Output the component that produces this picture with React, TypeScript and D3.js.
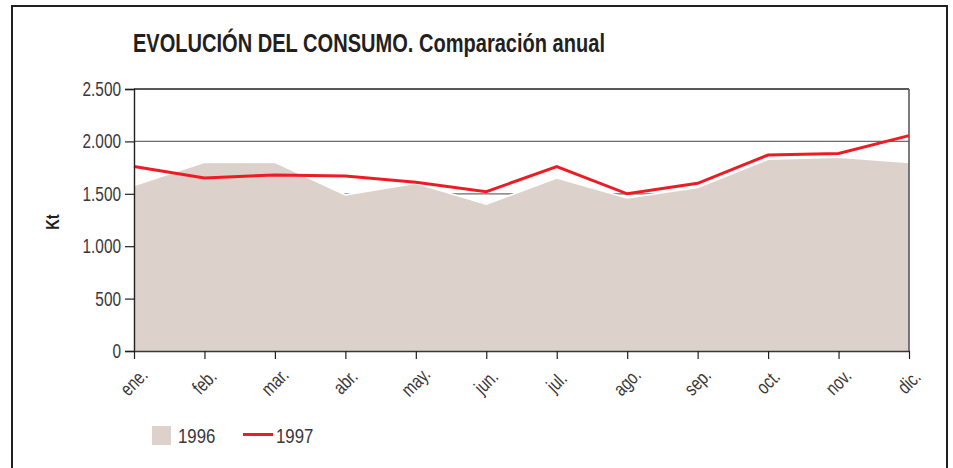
import React, { useEffect, useRef } from 'react'
import * as d3 from 'd3'

const months = ['ene.', 'feb.', 'mar.', 'abr.', 'may.', 'jun.', 'jul.', 'ago.', 'sep.', 'oct.', 'nov.', 'dic.']
const consumo1996 = [1580, 1800, 1800, 1490, 1600, 1400, 1650, 1460, 1560, 1830, 1850, 1800]
const consumo1997 = [1760, 1650, 1680, 1670, 1610, 1520, 1760, 1500, 1600, 1870, 1885, 2055]
const yTicks = [0, 500, 1000, 1500, 2000, 2500]

const W = 953
const H = 468
const FONT = "'Liberation Sans', Arial, sans-serif"
const SX = 0.77 // squeeze glyphs to mimic a condensed face
const AREA = '#ddd1cc'
const RED = '#ed1c24'
const INK = '#231f20'
const LABEL = '#3a3839'

export default function App() {
    const svgRef = useRef<SVGSVGElement>(null)

    useEffect(() => {
        const svg = d3.select(svgRef.current)
        svg.selectAll('*').remove()

        const left = 134
        const right = 909
        const top = 89
        const bottom = 351

        const x = d3.scalePoint<string>().domain(months).range([left, right])
        const y = d3.scaleLinear().domain([0, 2500]).range([bottom, top])

        // outer frame
        svg.append('rect')
            .attr('x', 12).attr('y', 6)
            .attr('width', 935).attr('height', 520)
            .attr('fill', 'none').attr('stroke', INK).attr('stroke-width', 2)

        svg.append('text')
            .attr('x', 133).attr('y', 52)
            .attr('font-family', FONT).attr('font-weight', 'bold')
            .attr('font-size', 25.5).attr('fill', INK)
            .attr('textLength', 472).attr('lengthAdjust', 'spacingAndGlyphs')
            .text('EVOLUCIÓN DEL CONSUMO. Comparación anual')

        // gridlines (behind the area)
        svg.append('g').selectAll('line')
            .data(yTicks.filter(d => d > 0 && d < 2500))
            .enter().append('line')
            .attr('x1', left).attr('x2', right)
            .attr('y1', d => y(d)).attr('y2', d => y(d))
            .attr('stroke', '#6d6a6a').attr('stroke-width', 1.2)

        const area = d3.area<number>()
            .x((d, i) => x(months[i]) as number)
            .y0(bottom)
            .y1(d => y(d))

        svg.append('path').datum(consumo1996)
            .attr('d', area).attr('fill', AREA)

        const line = d3.line<number>()
            .x((d, i) => x(months[i]) as number)
            .y(d => y(d))

        svg.append('path').datum(consumo1996)
            .attr('d', line).attr('fill', 'none')
            .attr('stroke', '#fff').attr('stroke-width', 1.6)

        // frame of plot: top and right
        svg.append('line')
            .attr('x1', left).attr('x2', right).attr('y1', top).attr('y2', top)
            .attr('stroke', INK).attr('stroke-width', 1.4)
        svg.append('line')
            .attr('x1', right).attr('x2', right).attr('y1', top).attr('y2', bottom)
            .attr('stroke', '#5d5959').attr('stroke-width', 1.6)

        svg.append('path').datum(consumo1997)
            .attr('d', line).attr('fill', 'none')
            .attr('stroke', RED).attr('stroke-width', 3)
            .attr('stroke-linejoin', 'miter')

        // y axis
        const yAxis = svg.append('g')
            .attr('transform', `translate(${left},0)`)
            .call(d3.axisLeft(y).tickValues(yTicks).tickSize(9).tickPadding(4)
                .tickFormat(d => d3.format(',')(d as number).replace(/,/g, '.')))
        yAxis.select('.domain').attr('stroke', INK).attr('stroke-width', 1.4)
        yAxis.selectAll('.tick line').attr('stroke', INK).attr('stroke-width', 1.2)
        yAxis.selectAll('.tick text')
            .attr('x', -13 / SX)
            .attr('transform', `scale(${SX},1)`)
            .attr('font-family', FONT).attr('font-size', 20).attr('fill', LABEL)

        // x axis
        const xAxis = svg.append('g')
            .attr('transform', `translate(0,${bottom})`)
            .call(d3.axisBottom(x).tickSize(8).tickSizeOuter(0))
        xAxis.select('.domain').attr('stroke', '#3a3636').attr('stroke-width', 1.6)
        xAxis.selectAll('.tick line').attr('stroke', INK).attr('stroke-width', 1.2)
        xAxis.selectAll('.tick text').remove()

        svg.append('g').selectAll('text')
            .data(months)
            .enter().append('text')
            .attr('transform', d => `translate(${(x(d) as number) + 1},383) rotate(-45) scale(${SX},1)`)
            .attr('text-anchor', 'middle').attr('dominant-baseline', 'middle')
            .attr('font-family', FONT).attr('font-size', 19.5).attr('fill', LABEL)
            .text(d => d)

        svg.append('text')
            .attr('transform', `translate(59,222) rotate(-90) scale(${SX},1)`)
            .attr('text-anchor', 'middle')
            .attr('font-family', FONT).attr('font-weight', 'bold')
            .attr('font-size', 19).attr('fill', INK)
            .text('Kt')

        // legend
        svg.append('rect')
            .attr('x', 152).attr('y', 426).attr('width', 19).attr('height', 19)
            .attr('fill', AREA)
        svg.append('text')
            .attr('transform', `translate(178,443) scale(0.82,1)`)
            .attr('font-family', FONT).attr('font-size', 20.5).attr('fill', LABEL)
            .text('1996')
        svg.append('line')
            .attr('x1', 243).attr('x2', 273).attr('y1', 434.5).attr('y2', 434.5)
            .attr('stroke', RED).attr('stroke-width', 3)
        svg.append('text')
            .attr('transform', `translate(276,443) scale(0.82,1)`)
            .attr('font-family', FONT).attr('font-size', 20.5).attr('fill', LABEL)
            .text('1997')
    }, [])

    return (
        <svg
            ref={svgRef}
            width={W}
            height={H}
            style={{ position: 'absolute', left: 0, top: 0, background: '#fff' }}
        />
    )
}
